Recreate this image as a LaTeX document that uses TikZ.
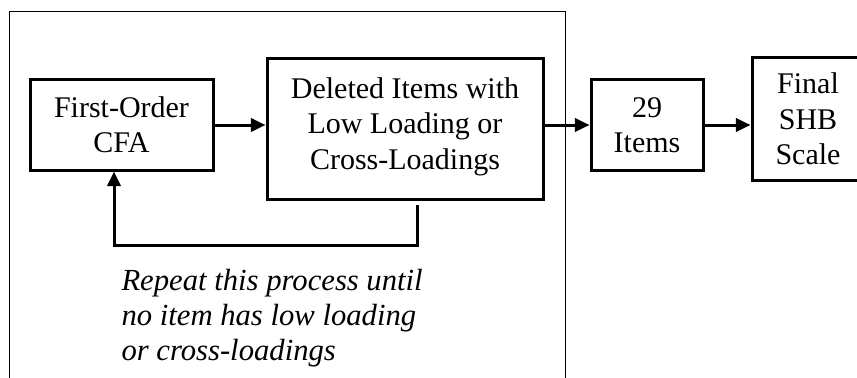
\documentclass[tikz,border=0pt]{standalone}
\usepackage{fontspec}
\setmainfont{Liberation Serif}
\usetikzlibrary{arrows.meta,positioning}

\tikzset{every picture/.style={line width=0.75pt}}
\tikzset{
  stagebox/.style={draw, line width=2.25pt, align=center, inner sep=0pt,
    font=\fontsize{22.5}{26.5}\selectfont},
  flowarrow/.style={line width=2.25pt, -{Triangle[length=11pt,width=10pt]}},
}

\begin{document}
\begin{tikzpicture}[x=0.75pt,y=0.75pt,yscale=-1,xscale=1]
	\useasboundingbox (0,0) rectangle (857,378);
	\clip (0,0) rectangle (857,378);

	%Shape: Rectangle [id:outer] open at the bottom
	\draw    (9,395) -- (9,11.5) -- (565,11.5) -- (565,395) ;

	%Shape: Boxes
	\node[stagebox, minimum width=137.25pt, minimum height=67.5pt] (cfa) at (121.5,125) {First-Order\\CFA};
	\node[stagebox, minimum width=207pt, minimum height=105pt] (deleted) at (405,129) {Deleted Items with\\Low Loading or\\Cross-Loadings\\[-18pt]};
	\node[stagebox, minimum width=84pt, minimum height=67.5pt] (items) at (647,125) {29\\Items};
	\node[stagebox, minimum width=84pt, minimum height=91.5pt] (final) at (808,119) {Final\\SHB\\Scale};

	%Straight Lines [id:arrows]
	\draw[flowarrow] (cfa.east) -- (cfa.east -| deleted.west) ;
	\draw[flowarrow] (deleted.east |- items) -- (items.west) ;
	\draw[flowarrow] (items.east) -- (items.east -| final.west) ;

	%Straight Lines [id:loop back]
	\coordinate (loopstart) at (417,205) ;
	\coordinate (loopturn) at (114,245) ;
	\draw[flowarrow] (loopstart) |- (loopturn) -- (loopturn |- cfa.south) ;

	% Text Node
	\node[anchor=north west, inner sep=0pt, align=left, font=\fontsize{23}{26}\selectfont\itshape] (note) at (121,269) {Repeat this process until\\no item has low loading\\or cross-loadings};

\end{tikzpicture}
\end{document}
